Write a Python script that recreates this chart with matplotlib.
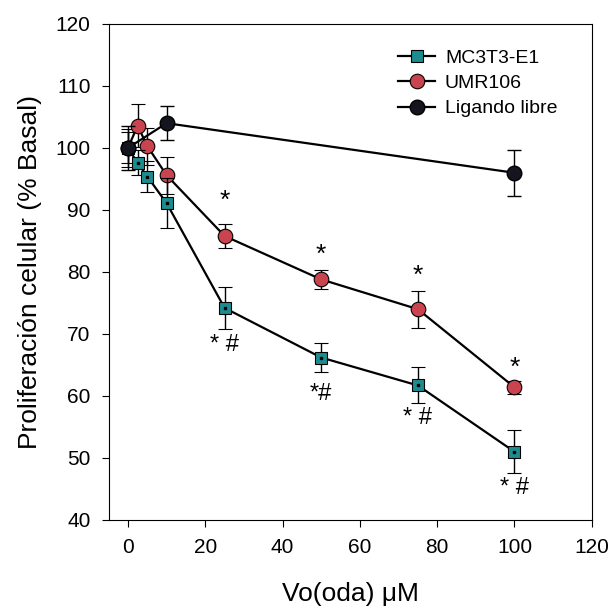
import matplotlib.pyplot as plt
from matplotlib.lines import Line2D

plt.rcParams['font.family'] = ['Liberation Sans', 'DejaVu Sans']

# data
dose_mc = [0, 2.5, 5, 10, 25, 50, 75, 100]
mc3t3 = [100, 97.6, 95.4, 91.1, 74.2, 66.2, 61.7, 51.0]
mc3t3_err = [2.5, 2.0, 2.5, 4.0, 3.4, 2.4, 2.9, 3.5]

dose_umr = [0, 2.5, 5, 10, 25, 50, 75, 100]
umr106 = [100, 103.6, 100.3, 95.6, 85.8, 78.8, 74.0, 61.4]
umr106_err = [3.0, 3.5, 3.0, 3.0, 2.0, 1.5, 3.0, 1.0]

dose_lib = [0, 10, 100]
libre = [100, 104.0, 96.0]
libre_err = [3.5, 2.7, 3.7]

# significance marks
star_x = [25, 50, 75, 100]
star_y = [91.5, 82.7, 79.3, 64.5]
hash_x = [25, 50, 75, 100]
hash_y = [68.2, 60.3, 56.4, 45.2]
hash_txt = ['* #', '*#', '* #', '* #']

teal = '#1c8c8e'
red = '#c9444e'
dark = '#15151f'

fig = plt.figure(figsize=(6.12, 6.15), dpi=100)
ax = fig.add_axes([0.1775, 0.1545, 0.7895, 0.8065])

ax.errorbar(dose_umr, umr106, yerr=umr106_err, color='black', lw=1.6, capsize=5,
            elinewidth=1, capthick=1, marker='o', ms=10.5, mfc=red, mec='black',
            mew=0.8, zorder=3)
ax.errorbar(dose_mc, mc3t3, yerr=mc3t3_err, color='black', lw=1.6, capsize=5,
            elinewidth=1, capthick=1, marker='s', ms=9, mfc=teal, mec='black',
            mew=0.8, zorder=4)
ax.plot(dose_mc, mc3t3, ls='none', marker='s', ms=1.8, color='black', zorder=5)
ax.errorbar(dose_lib, libre, yerr=libre_err, color='black', lw=1.6, capsize=5,
            elinewidth=1, capthick=1, marker='o', ms=10.5, mfc=dark, mec='black',
            zorder=6)

for x, y in zip(star_x, star_y):
    ax.text(x, y, '*', ha='center', va='center', fontsize=19)
for x, y, t in zip(hash_x, hash_y, hash_txt):
    ax.text(x, y, t, ha='center', va='center', fontsize=17)

ax.set_xlim(-5, 120)
ax.set_ylim(40, 120)
ax.set_xticks(range(0, 121, 20))
ax.set_yticks(range(40, 121, 10))
ax.tick_params(labelsize=15, length=5, direction='out', pad=8)
ax.set_xlabel('Vo(oda) \u03bcM', fontsize=19, labelpad=18)
ax.set_ylabel('Proliferación celular (% Basal)', fontsize=19, labelpad=10)

handles = [
    Line2D([], [], color='black', lw=1.6, marker='s', ms=9, mfc=teal, mec='black', mew=0.8),
    Line2D([], [], color='black', lw=1.6, marker='o', ms=10.5, mfc=red, mec='black', mew=0.8),
    Line2D([], [], color='black', lw=1.6, marker='o', ms=10.5, mfc=dark, mec='black'),
]
labels = ['MC3T3-E1', 'UMR106', 'Ligando libre']
ax.legend(handles, labels, loc='upper right', bbox_to_anchor=(0.965, 0.985),
          frameon=False, fontsize=14, handlelength=1.9, handletextpad=0.5,
          labelspacing=0.4)

fig.savefig('out.png', dpi=100)
